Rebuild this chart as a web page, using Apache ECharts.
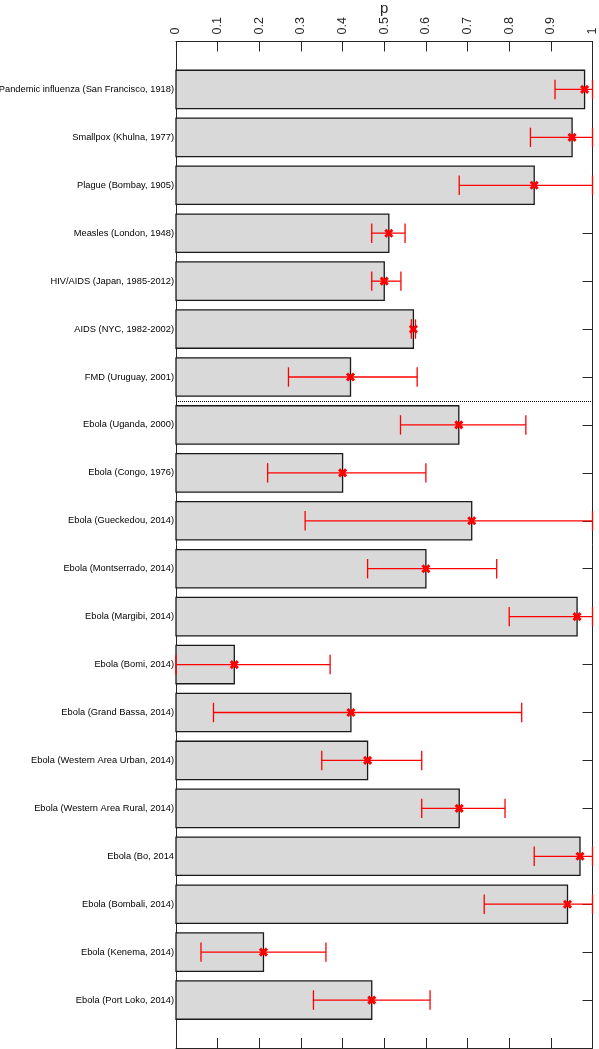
<!DOCTYPE html>
<html>
<head>
<meta charset="utf-8">
<script src="https://cdn.jsdelivr.net/npm/echarts@6/dist/echarts.min.js"></script>
<style>html,body{margin:0;padding:0;background:#fff}#c{width:599px;height:1049px}</style>
</head>
<body>
<div id="c"></div>
<script>
const categories = [
  "Pandemic influenza (San Francisco, 1918)",
  "Smallpox (Khulna, 1977)",
  "Plague (Bombay, 1905)",
  "Measles (London, 1948)",
  "HIV/AIDS (Japan, 1985-2012)",
  "AIDS (NYC, 1982-2002)",
  "FMD (Uruguay, 2001)",
  "Ebola (Uganda, 2000)",
  "Ebola (Congo, 1976)",
  "Ebola (Gueckedou, 2014)",
  "Ebola (Montserrado, 2014)",
  "Ebola (Margibi, 2014)",
  "Ebola (Bomi, 2014)",
  "Ebola (Grand Bassa, 2014)",
  "Ebola (Western Area Urban, 2014)",
  "Ebola (Western Area Rural, 2014)",
  "Ebola (Bo, 2014",
  "Ebola (Bombali, 2014)",
  "Ebola (Kenema, 2014)",
  "Ebola (Port Loko, 2014)"
];
const pValues = [0.981, 0.951, 0.860, 0.511, 0.50, 0.57, 0.419, 0.679, 0.40, 0.71, 0.60, 0.963, 0.14, 0.42, 0.46, 0.68, 0.97, 0.94, 0.21, 0.47];
const lowerBounds = [0.91, 0.851, 0.68, 0.47, 0.47, 0.565, 0.27, 0.539, 0.22, 0.31, 0.46, 0.80, 0.0, 0.09, 0.35, 0.59, 0.86, 0.74, 0.06, 0.33];
const upperBounds = [1.0, 1.0, 1.0, 0.55, 0.54, 0.575, 0.579, 0.84, 0.60, 1.0, 0.77, 1.0, 0.37, 0.83, 0.59, 0.79, 1.0, 1.0, 0.36, 0.61];
const xTicks = [0, 0.1, 0.2, 0.3, 0.4, 0.5, 0.6, 0.7, 0.8, 0.9, 1];
const separatorAt = 6.5;

const barData = pValues.map((v, i) => [i, v]);
const errData = pValues.map((v, i) => [i, lowerBounds[i], upperBounds[i], v]);

const font = "'Liberation Sans', Arial, sans-serif";
const axisColor = '#262626';

const chart = echarts.init(document.getElementById('c'), null, {renderer: 'canvas'});
const xCommon = {
  type: 'value', min: xTicks[0], max: xTicks[xTicks.length - 1], interval: 0.1,
  splitLine: {show: false},
  axisLine: {show: true, onZero: false, lineStyle: {color: axisColor, width: 1}},
  axisTick: {show: true, inside: true, length: 10, lineStyle: {color: axisColor}}
};
const yCommon = {
  type: 'value', inverse: true, min: -1, max: 20, interval: 1,
  splitLine: {show: false},
  axisLine: {show: true, onZero: false, lineStyle: {color: axisColor, width: 1}}
};
chart.setOption({
  animation: false,
  grid: {left: 176, right: 6.5, top: 41.5, bottom: 1, containLabel: false, outerBoundsMode: 'none'},
  xAxis: [
    Object.assign({}, xCommon, {
      position: 'top',
      name: 'p', nameLocation: 'middle', nameGap: 25, nameMoveOverlap: false,
      nameTextStyle: {fontFamily: font, fontSize: 15, color: axisColor},
      axisLabel: {show: true, rotate: -90, margin: 7, fontFamily: font, fontSize: 12.5, color: axisColor,
        formatter: v => String(Math.round(v * 10) / 10)}
    }),
    Object.assign({}, xCommon, {position: 'bottom', axisLabel: {show: false}})
  ],
  yAxis: [
    Object.assign({}, yCommon, {
      position: 'left',
      axisTick: {show: false},
      axisLabel: {show: true, margin: 2, fontFamily: font, fontSize: 9.3, color: '#000',
        formatter: v => (v >= 0 && v < categories.length) ? categories[v] : ''}
    }),
    Object.assign({}, yCommon, {
      position: 'right',
      axisTick: {show: true, inside: true, length: 10, lineStyle: {color: axisColor}},
      axisLabel: {show: false}
    })
  ],
  series: [
    {
      type: 'custom', xAxisIndex: 0, yAxisIndex: 0,
      data: barData,
      encode: {x: 1, y: 0},
      renderItem: function (params, api) {
        const i = api.value(0), v = api.value(1);
        const p0 = api.coord([0, i]);
        const p1 = api.coord([v, i]);
        const h = api.size([0, 0.8])[1];
        return {
          type: 'rect',
          shape: {x: p0[0], y: p0[1] - h / 2, width: p1[0] - p0[0], height: h},
          style: {fill: '#d9d9d9', stroke: '#1a1a1a', lineWidth: 1.3}
        };
      },
      markLine: {
        silent: true, symbol: 'none',
        label: {show: false},
        lineStyle: {type: 'dotted', color: '#000', width: 1},
        data: [{yAxis: separatorAt}]
      },
      z: 2
    },
    {
      type: 'custom', xAxisIndex: 0, yAxisIndex: 0,
      data: errData,
      encode: {x: [1, 2, 3], y: 0},
      renderItem: function (params, api) {
        const i = api.value(0);
        const lo = api.coord([api.value(1), i]);
        const hi = api.coord([api.value(2), i]);
        const mk = api.coord([api.value(3), i]);
        const capH = 9.7, m = 3.5;
        const red = '#ff0000';
        const ls = {stroke: red, lineWidth: 1.3};
        return {
          type: 'group',
          children: [
            {type: 'line', shape: {x1: lo[0], y1: lo[1], x2: hi[0], y2: hi[1]}, style: ls},
            {type: 'line', shape: {x1: lo[0], y1: lo[1] - capH, x2: lo[0], y2: lo[1] + capH}, style: ls},
            {type: 'line', shape: {x1: hi[0], y1: hi[1] - capH, x2: hi[0], y2: hi[1] + capH}, style: ls},
            {type: 'line', shape: {x1: mk[0] - m, y1: mk[1] - m, x2: mk[0] + m, y2: mk[1] + m}, style: {stroke: red, lineWidth: 3}},
            {type: 'line', shape: {x1: mk[0] - m, y1: mk[1] + m, x2: mk[0] + m, y2: mk[1] - m}, style: {stroke: red, lineWidth: 3}}
          ]
        };
      },
      z: 3
    }
  ]
});
</script>
</body>
</html>
